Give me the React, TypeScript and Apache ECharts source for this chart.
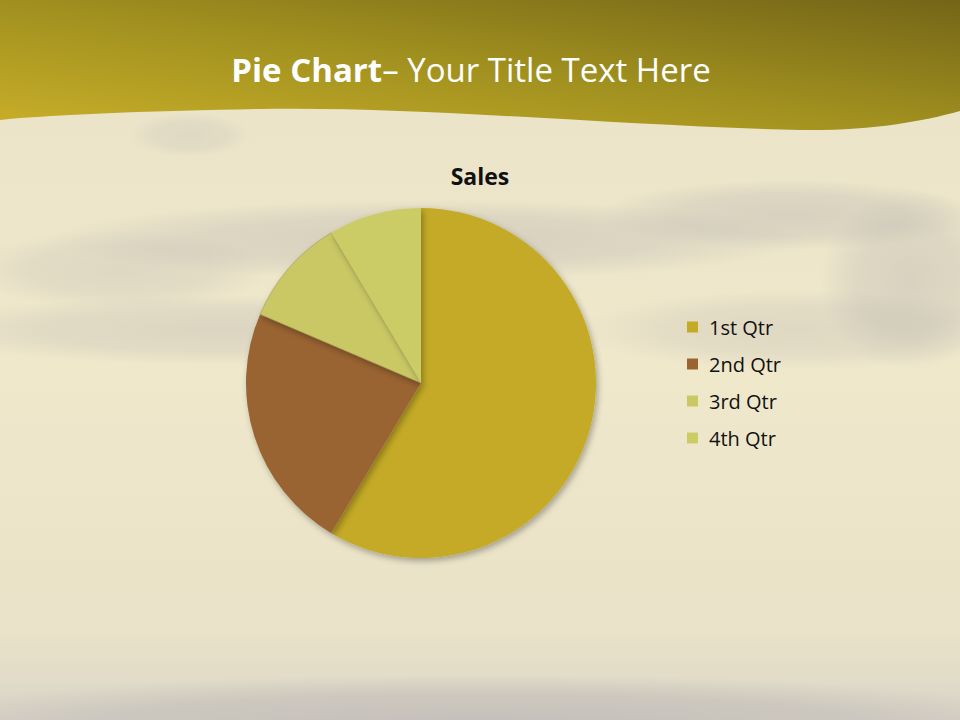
import React, { useEffect, useRef } from "react";
import * as echarts from "echarts";

const categories = ["1st Qtr", "2nd Qtr", "3rd Qtr", "4th Qtr"];
const sales = [8.2, 3.2, 1.4, 1.2];
const colors = ["#C4AA26", "#9A6431", "#C9C865", "#CCCC66"];

echarts.graphic.registerShape(
  "band",
  echarts.graphic.extendPath(
    "M0 0 L960 0 L960 111 C 920 122, 870 131, 800 130 C 620 126, 420 106, 260 109 C 160 111, 60 114, 0 120 Z",
    {}
  )
);

export default function App() {
  const ref = useRef<HTMLDivElement>(null);
  useEffect(() => {
    document.body.style.margin = "0";
    const chart = echarts.init(ref.current!, null, { renderer: "svg" });
    const blot = (cx: number, cy: number, rx: number, ry: number, a: number) => ({
      type: "ellipse",
      z: -9,
      shape: { cx, cy, rx, ry },
      silent: true,
      style: {
        fill: {
          type: "radial", x: 0.5, y: 0.5, r: 0.5,
          colorStops: [
            { offset: 0, color: `rgba(165,160,165,${a})` },
            { offset: 0.6, color: `rgba(165,160,165,${a * 0.7})` },
            { offset: 1, color: "rgba(165,160,165,0)" },
          ],
        },
      },
    });
    chart.setOption({
      animation: false,
      backgroundColor: "#EEE7C9",
      title: {
        text: "Sales",
        left: "center",
        top: 159,
        textStyle: { fontFamily: "Open Sans", fontWeight: "bold", fontSize: 23, color: "#111" },
      },
      graphic: [
        {
          type: "rect",
          z: -10,
          silent: true,
          shape: { x: 0, y: 0, width: 960, height: 720 },
          style: {
            fill: {
              type: "linear", x: 0, y: 0, x2: 0, y2: 1,
              colorStops: [
                { offset: 0, color: "#E9E2C8" },
                { offset: 0.5, color: "#EFE8CB" },
                { offset: 0.88, color: "#E9E2C8" },
                { offset: 1, color: "#DAD5C8" },
              ],
            },
          },
        },
        blot(430, 240, 380, 40, 0.32),
        blot(790, 215, 190, 35, 0.3),
        blot(220, 330, 300, 35, 0.26),
        blot(800, 330, 220, 40, 0.22),
        blot(910, 280, 90, 90, 0.3),
        blot(120, 270, 150, 40, 0.22),
        blot(480, 720, 600, 45, 0.4),
        blot(190, 135, 60, 22, 0.18),
        {
          type: "band",
          z: -5,
          silent: true,
          x: 0,
          y: 0,
          style: {
            fill: {
              type: "linear", x: 0, y: 1, x2: 1, y2: 0,
              colorStops: [
                { offset: 0, color: "#C9AF29" },
                { offset: 0.5, color: "#A0901F" },
                { offset: 1, color: "#746518" },
              ],
            },
          },
        },
        {
          type: "text",
          z: 10,
          x: 471,
          y: 69,
          style: {
            text: "{b|Pie Chart}{r|– Your Title Text Here}",
            align: "center",
            verticalAlign: "middle",
            fill: "#fff",
            rich: {
              b: { fontFamily: "Open Sans", fontWeight: "bold", fontSize: 33, fill: "#fff" },
              r: { fontFamily: "Open Sans", fontSize: 33, fill: "#fff" },
            },
          },
        },
      ],
      legend: {
        orient: "vertical",
        left: 687,
        top: 314,
        padding: 0,
        icon: "rect",
        itemWidth: 11,
        itemHeight: 11,
        itemGap: 11,
        itemStyle: { borderWidth: 0, shadowBlur: 0, shadowOffsetX: 0, shadowOffsetY: 0 },
        data: categories,
        textStyle: { fontFamily: "Open Sans", fontSize: 20, color: "#111", lineHeight: 26, padding: [0, 0, 0, 6] },
      },
      series: [
        {
          type: "pie",
          center: [421, 383],
          radius: 175,
          startAngle: 90,
          clockwise: true,
          label: { show: false },
          labelLine: { show: false },
          emphasis: { disabled: true },
          data: categories.map((c, i) => ({
            name: c,
            value: sales[i],
            itemStyle: {
              color: colors[i],
              borderWidth: i === 2 ? 0.6 : 0,
              borderColor: "rgba(150,145,70,0.8)",
            },
          })),
          itemStyle: {
            shadowBlur: 6,
            shadowOffsetX: 2,
            shadowOffsetY: 3,
            shadowColor: "rgba(0,0,0,0.3)",
          },
        },
      ],
    });
    return () => chart.dispose();
  }, []);
  return <div ref={ref} style={{ width: 960, height: 720 }} />;
}
